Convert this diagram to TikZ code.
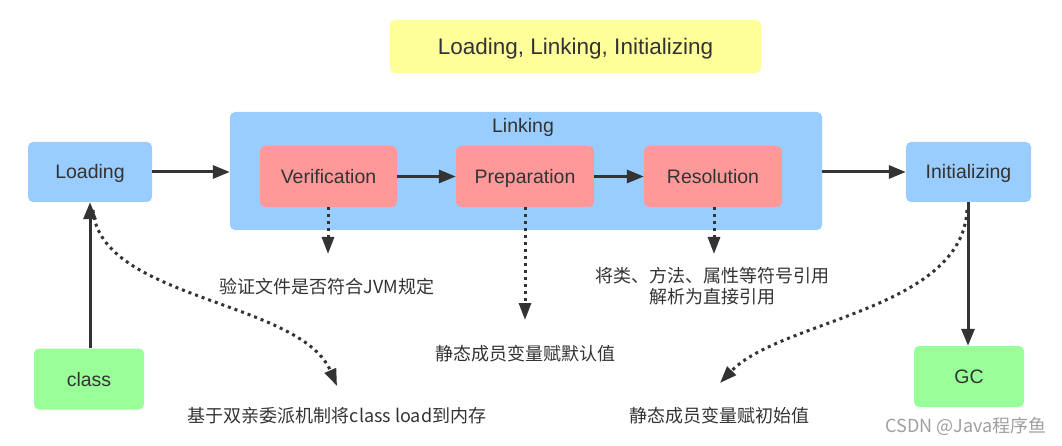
\documentclass[tikz,border=0pt]{standalone}
\usepackage{fontspec}
\setmainfont{Liberation Sans}
\newfontfamily\cjk{Noto Sans CJK SC}
\usetikzlibrary{positioning,arrows.meta}

\definecolor{stageblue}{HTML}{99CCFF}
\definecolor{substred}{HTML}{FF9999}
\definecolor{endgreen}{HTML}{99FF99}
\definecolor{titleyel}{HTML}{FFFF99}
\definecolor{ink}{HTML}{333333}

\begin{document}
\begin{tikzpicture}[
  x=1pt, y=-1pt,
  box/.style={rounded corners=5pt, align=center, text=ink, inner sep=0pt,
              text height=14pt, text depth=0pt,
              font=\fontsize{19.5}{23}\selectfont},
  stage/.style={box, fill=stageblue, minimum width=124pt, minimum height=60pt},
  substage/.style={box, fill=substred, minimum width=138pt, minimum height=61pt},
  endpt/.style={box, fill=endgreen, minimum width=110pt, minimum height=61pt},
  headline/.style={box, fill=titleyel, minimum width=371pt, minimum height=53pt,
              text height=16pt, font=\fontsize{22.5}{27}\selectfont},
  note/.style={align=center, text=ink, inner sep=0pt,
              font=\cjk\fontsize{18}{21}\selectfont},
  flow/.style={-{Triangle[length=17pt,width=13pt]}, line width=3pt, draw=ink},
  dotflow/.style={-{Triangle[length=17pt,width=12pt]}, line width=3pt, draw=ink,
              dash pattern=on 3pt off 4pt}
]
\useasboundingbox (0,0) rectangle (1062,446);

\node[headline] (head) at (575.5,46.5) {Loading, Linking, Initializing};

% main stages
\node[stage] (load) at (90,172) {Loading};
\node[box, fill=stageblue, minimum width=592pt, minimum height=118pt] (link) at (526,171) {};
\node[box] (linklbl) at (523,125.5) {Linking};
\node[stage, minimum width=125pt] (init) at (968.5,172) {Initializing};

% linking steps
\node[substage, minimum width=137pt] (verif) at (328.5,176.5) {Verification};
\node[substage] (prep) at (525,176.5) {Preparation};
\node[substage] (resol) at (713,176.5) {Resolution};

\node[endpt] (cls) at (89,379) {class};
\node[endpt] (gc) at (969,376.5) {GC};

\draw[flow] (load) -- (load -| link.west);
\draw[flow] (verif) -- (prep);
\draw[flow] (prep) -- (resol);
\draw[flow] (link.east |- init) -- (init);
\draw[flow] (cls.north -| 90,0) -- (load.south -| 90,0);
\draw[flow] (init.south -| 968,0) -- (gc.north -| 968,0);

% notes
\node[note] (vtxt) at (327,287) {验证文件是否符合JVM规定};
\node[note] (ptxt) at (525,354) {静态成员变量赋默认值};
\node[note] (rtxt) at (712,286.5) {将类、方法、属性等符号引用\\解析为直接引用};
\node[note] (ltxt) at (337,416) {基于双亲委派机制将class load到内存};
\node[note] (itxt) at (719,416) {静态成员变量赋初始值};
\node[note, text=gray!75, anchor=east] (mark) at (1047,426) {CSDN @Java程序鱼};

\coordinate (vtip) at (328,254);
\coordinate (ptip) at (525,320);
\coordinate (rtip) at (714,254);
\coordinate (ltip) at (337,386);
\coordinate (itip) at (720,383);

\draw[dotflow] (verif.south -| vtip) -- (vtip);
\draw[dotflow] (prep.south) -- (ptip);
\draw[dotflow] (resol.south -| rtip) -- (rtip);
\draw[dotflow] (93,210) .. controls (100,300) and (300,300) .. (ltip);
\draw[dotflow] (967,210) .. controls (962,310) and (780,320) .. (itip);
\end{tikzpicture}
\end{document}
